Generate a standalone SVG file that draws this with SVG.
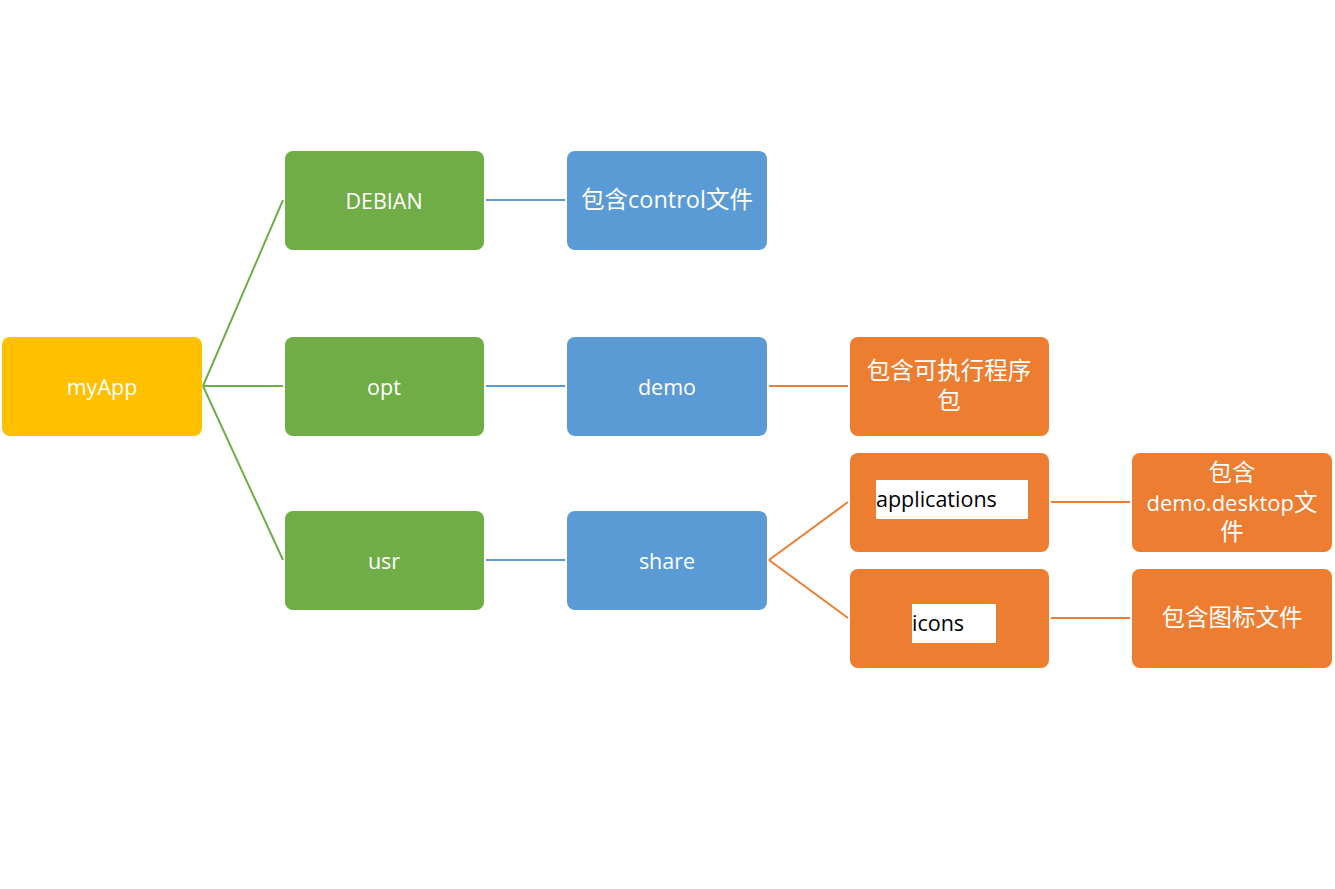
<svg xmlns="http://www.w3.org/2000/svg" width="1335" height="889" viewBox="0 0 1335 889">
<style>
.y{fill:#FFC000}.g{fill:#70AD47}.b{fill:#5B9BD5}.o{fill:#ED7D31}
text{font-family:"Open Sans","Noto Sans CJK SC",sans-serif;fill:#fff;text-anchor:middle;dominant-baseline:central}
.l{font-size:21.5px}.c{font-size:23.5px}.d{font-size:22px}
.k{fill:#000;text-anchor:start}
.cg{stroke:#70AD47;stroke-width:2;fill:none}.cb{stroke:#5B9BD5;stroke-width:2;fill:none}.co{stroke:#ED7D31;stroke-width:2;fill:none}
</style>
<rect width="1335" height="889" fill="#fff"/>
<g id="connectors">
<path class="cg" d="M203,386 L283,200 M203,386 L283,386 M203,386 L283,560"/>
<path class="cb" d="M486,200 H565 M486,386 H565 M486,560 H565"/>
<path class="co" d="M769,386 H848 M769,560 L848,502 M769,560 L848,618 M1051,502 H1130 M1051,618 H1130"/>
</g>
<g id="myApp"><rect class="y" x="2" y="337" width="200" height="99" rx="8"/><text class="l" x="102" y="386">myApp</text></g>
<g id="DEBIAN"><rect class="g" x="285" y="151" width="199" height="99" rx="8"/><text class="l" x="384" y="200">DEBIAN</text></g>
<g id="opt"><rect class="g" x="285" y="337" width="199" height="99" rx="8"/><text class="l" x="384" y="386">opt</text></g>
<g id="usr"><rect class="g" x="285" y="511" width="199" height="99" rx="8"/><text class="l" x="384" y="560">usr</text></g>
<g id="control"><rect class="b" x="567" y="151" width="200" height="99" rx="8"/><text class="c" x="667" y="199">包含control文件</text></g>
<g id="demo"><rect class="b" x="567" y="337" width="200" height="99" rx="8"/><text class="l" x="667" y="386">demo</text></g>
<g id="share"><rect class="b" x="567" y="511" width="200" height="99" rx="8"/><text class="l" x="667" y="560">share</text></g>
<g id="exec"><rect class="o" x="850" y="337" width="199" height="99" rx="8"/><text class="c" x="949" y="370">包含可执行程序</text><text class="c" x="949" y="400">包</text></g>
<g id="applications"><rect class="o" x="850" y="453" width="199" height="99" rx="8"/><rect x="876" y="480" width="152" height="39" fill="#fff"/><text class="l k" x="876" y="498">applications</text></g>
<g id="icons"><rect class="o" x="850" y="569" width="199" height="99" rx="8"/><rect x="912" y="604" width="84" height="39" fill="#fff"/><text class="l k" x="912" y="622">icons</text></g>
<g id="desktop"><rect class="o" x="1132" y="453" width="200" height="99" rx="8"/><text class="c" x="1232" y="472">包含</text><text class="c" x="1232" y="502"><tspan class="d">demo.desktop</tspan>文</text><text class="c" x="1232" y="531">件</text></g>
<g id="iconfiles"><rect class="o" x="1132" y="569" width="200" height="99" rx="8"/><text class="c" x="1232" y="617">包含图标文件</text></g>
</svg>
